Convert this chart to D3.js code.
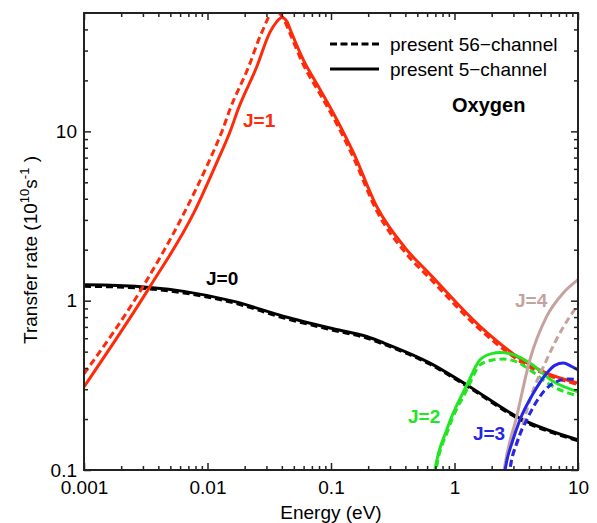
<!DOCTYPE html>
<html>
<head>
<meta charset="utf-8">
<script src="https://cdn.jsdelivr.net/npm/d3@7/dist/d3.min.js"></script>
<style>
  html, body { margin: 0; padding: 0; background: #fff; }
  svg { display: block; font-family: "Liberation Sans", Arial, Helvetica, sans-serif; }
</style>
</head>
<body>
<svg id="chart" width="597" height="523"></svg>
<script>
// ---------- data: [energy (eV), transfer rate (1e10 s^-1)] ----------
const J0_5ch = [[0.001,1.24],[0.00186,1.23],[0.00646,1.135],[0.0164,0.99],[0.0416,0.807],[0.106,0.68],[0.197,0.612],[0.269,0.562],[0.634,0.428],[1.26,0.318],[3.39,0.202],[10,0.151]];
const J0_56ch = [[0.001,1.215],[0.00186,1.205],[0.00646,1.11],[0.0164,0.97],[0.0416,0.79],[0.106,0.667],[0.197,0.600],[0.269,0.552],[0.634,0.421],[1.26,0.313],[3.39,0.199],[10,0.149]];

const J1_5ch = [[0.001,0.31],[0.00342,1.21],[0.00778,3.32],[0.0119,6.56],[0.0155,10.3],[0.0177,13.5],[0.025,24],[0.032,38.4],[0.036,44],[0.040,47],[0.044,44.5],[0.0466,40.2],[0.0593,26.7],[0.0815,17.7],[0.111,11.8],[0.152,7.48],[0.234,3.61],[0.41,2.0],[0.634,1.43],[1.61,0.705],[4.08,0.418],[5.58,0.373],[10,0.326]];
const J1_56ch = [[0.001,0.37],[0.003,1.21],[0.0065,3.32],[0.0102,6.56],[0.0133,10.3],[0.0152,13.5],[0.0215,24],[0.0275,38.4],[0.035,52],[0.042,45],[0.0466,37.8],[0.0593,25.0],[0.0815,16.6],[0.111,11.1],[0.152,7.0],[0.234,3.40],[0.41,1.88],[0.634,1.35],[1.61,0.675],[4.08,0.405],[5.58,0.365],[10,0.32]];

const J2_5ch = [[0.68,0.09],[0.695,0.1],[0.865,0.173],[1.26,0.318],[1.61,0.448],[2.0,0.487],[2.33,0.494],[3.0,0.48],[4.08,0.428],[6.31,0.333],[10,0.29]];
const J2_56ch = [[0.695,0.09],[0.71,0.1],[0.88,0.17],[1.28,0.305],[1.61,0.418],[2.0,0.445],[2.48,0.452],[3.2,0.435],[4.08,0.39],[6.31,0.31],[10,0.274]];

const J3_5ch = [[2.52,0.09],[2.57,0.1],[2.95,0.148],[3.39,0.198],[4.35,0.284],[5.58,0.373],[6.5,0.415],[7.6,0.428],[8.8,0.41],[10,0.39]];
const J3_56ch = [[2.76,0.09],[2.81,0.1],[3.2,0.145],[3.85,0.198],[4.92,0.272],[6.71,0.333],[8.5,0.345],[10,0.341]];

const J4_5ch = [[2.47,0.09],[2.52,0.1],[3.19,0.207],[4.08,0.448],[5.58,0.807],[7.6,1.11],[10,1.33]];
const J4_56ch = [[2.75,0.09],[2.81,0.1],[3.4,0.162],[4.08,0.26],[5.58,0.448],[7.38,0.673],[10,0.946]];

const xMajorTicks = [0.001, 0.01, 0.1, 1, 10];
const xTickLabels = ["0.001", "0.01", "0.1", "1", "10"];
const yMajorTicks = [0.1, 1, 10];
const yTickLabels = ["0.1", "1", "10"];

const series = [
  { data: J0_56ch, color: "#000000", dashed: true },
  { data: J0_5ch,  color: "#000000", dashed: false },
  { data: J1_56ch, color: "#ff2a0a", dashed: true },
  { data: J1_5ch,  color: "#ff2a0a", dashed: false },
  { data: J2_56ch, color: "#22e622", dashed: true },
  { data: J2_5ch,  color: "#22e622", dashed: false },
  { data: J4_56ch, color: "#c6a29f", dashed: true },
  { data: J4_5ch,  color: "#c6a29f", dashed: false },
  { data: J3_56ch, color: "#2626e8", dashed: true },
  { data: J3_5ch,  color: "#2626e8", dashed: false }
];

// label anchor (baseline-left) in data coordinates
const labels = [
  { text: "J=0", E: 0.00973, R: 1.245, color: "#000000" },
  { text: "J=1", E: 0.0194, R: 10.6, color: "#ff2a0a" },
  { text: "J=2", E: 0.42, R: 0.19, color: "#22e622" },
  { text: "J=3", E: 1.41, R: 0.1505, color: "#2626e8" },
  { text: "J=4", E: 3.09, R: 0.922, color: "#c6a29f" }
];

// ---------- layout ----------
const svg = d3.select("#chart");
const L = 84, R = 578, T = 13, B = 470;
const x = d3.scaleLog().domain([0.001, 10]).range([L, R]);
const y = d3.scaleLog().domain([0.1, 50]).range([B, T]);

function minorTicks(lo, hi) {
  const out = [];
  for (let e = Math.floor(Math.log10(lo)); e <= Math.ceil(Math.log10(hi)); e++) {
    for (let k = 2; k <= 9; k++) {
      const v = k * Math.pow(10, e);
      if (v > lo * 1.0001 && v < hi * 0.9999) out.push(v);
    }
  }
  return out;
}
const xMinor = minorTicks(0.001, 10);
const yMinor = minorTicks(0.1, 50);

svg.append("defs").append("clipPath").attr("id", "plotclip")
  .append("rect").attr("x", L).attr("y", T).attr("width", R - L).attr("height", B - T);

// ---------- curves ----------
const line = d3.line()
  .x(d => x(d[0])).y(d => y(d[1]))
  .curve(d3.curveMonotoneX);

const g = svg.append("g").attr("clip-path", "url(#plotclip)");
series.forEach(s => {
  g.append("path")
    .attr("d", line(s.data))
    .attr("fill", "none")
    .attr("stroke", s.color)
    .attr("stroke-width", 3)
    .attr("stroke-dasharray", s.dashed ? "7,4" : null);
});

// ---------- axes ----------
const tickFont = 19;
function styleAxis(sel) {
  sel.select(".domain").remove();
  sel.selectAll(".tick line").attr("stroke", "#222").attr("stroke-width", 1.5);
  sel.selectAll(".tick text").attr("fill", "#000").style("font-size", tickFont + "px")
     .style("font-family", '"Liberation Sans", Arial, sans-serif');
}
// bottom
svg.append("g").attr("transform", `translate(0,${B})`)
  .call(d3.axisBottom(x).tickValues(xMajorTicks).tickFormat((d, i) => xTickLabels[i]).tickSizeInner(-7).tickSizeOuter(0).tickPadding(11))
  .call(styleAxis);
svg.append("g").attr("transform", `translate(0,${B})`)
  .call(d3.axisBottom(x).tickValues(xMinor).tickFormat("").tickSizeInner(-4).tickSizeOuter(0))
  .call(styleAxis);
// top
svg.append("g").attr("transform", `translate(0,${T})`)
  .call(d3.axisTop(x).tickValues(xMajorTicks).tickFormat("").tickSizeInner(-7).tickSizeOuter(0))
  .call(styleAxis);
svg.append("g").attr("transform", `translate(0,${T})`)
  .call(d3.axisTop(x).tickValues(xMinor).tickFormat("").tickSizeInner(-4).tickSizeOuter(0))
  .call(styleAxis);
// left
svg.append("g").attr("transform", `translate(${L},0)`)
  .call(d3.axisLeft(y).tickValues(yMajorTicks).tickFormat((d, i) => yTickLabels[i]).tickSizeInner(-7).tickSizeOuter(0).tickPadding(7))
  .call(styleAxis);
svg.append("g").attr("transform", `translate(${L},0)`)
  .call(d3.axisLeft(y).tickValues(yMinor).tickFormat("").tickSizeInner(-4).tickSizeOuter(0))
  .call(styleAxis);
// right
svg.append("g").attr("transform", `translate(${R},0)`)
  .call(d3.axisRight(y).tickValues(yMajorTicks).tickFormat("").tickSizeInner(-7).tickSizeOuter(0))
  .call(styleAxis);
svg.append("g").attr("transform", `translate(${R},0)`)
  .call(d3.axisRight(y).tickValues(yMinor).tickFormat("").tickSizeInner(-4).tickSizeOuter(0))
  .call(styleAxis);

// frame
svg.append("rect").attr("x", L).attr("y", T).attr("width", R - L).attr("height", B - T)
  .attr("fill", "none").attr("stroke", "#222").attr("stroke-width", 2);

// ---------- axis titles ----------
svg.append("text").attr("x", (L + R) / 2).attr("y", 519).attr("text-anchor", "middle")
  .style("font-size", "19px").text("Energy (eV)");

const yt = svg.append("text").attr("transform", "translate(37,250) rotate(-90)")
  .attr("text-anchor", "middle").style("font-size", "19px");
yt.append("tspan").text("Transfer rate (10");
yt.append("tspan").attr("dy", -8).style("font-size", "13px").text("10");
yt.append("tspan").attr("dy", 8).text("s");
yt.append("tspan").attr("dy", -8).style("font-size", "13px").text("-1");
yt.append("tspan").attr("dy", 8).text(" )");

// ---------- curve labels ----------
labels.forEach(l => {
  svg.append("text").attr("x", x(l.E)).attr("y", y(l.R))
    .style("font-size", "19px").style("font-weight", "bold")
    .attr("fill", l.color).text(l.text);
});

// ---------- legend ----------
const legend = [
  { text: "present 56\u2212channel", dashed: true, yy: 44 },
  { text: "present 5\u2212channel", dashed: false, yy: 69 }
];
legend.forEach(d => {
  svg.append("line").attr("x1", 330).attr("x2", 379).attr("y1", d.yy).attr("y2", d.yy)
    .attr("stroke", "#000").attr("stroke-width", 3)
    .attr("stroke-dasharray", d.dashed ? "7,3.5" : null);
  svg.append("text").attr("x", 390).attr("y", d.yy + 7).style("font-size", "19px").text(d.text);
});

svg.append("text").attr("x", 452).attr("y", 112).style("font-size", "20px")
  .style("font-weight", "bold").text("Oxygen");
</script>
</body>
</html>
